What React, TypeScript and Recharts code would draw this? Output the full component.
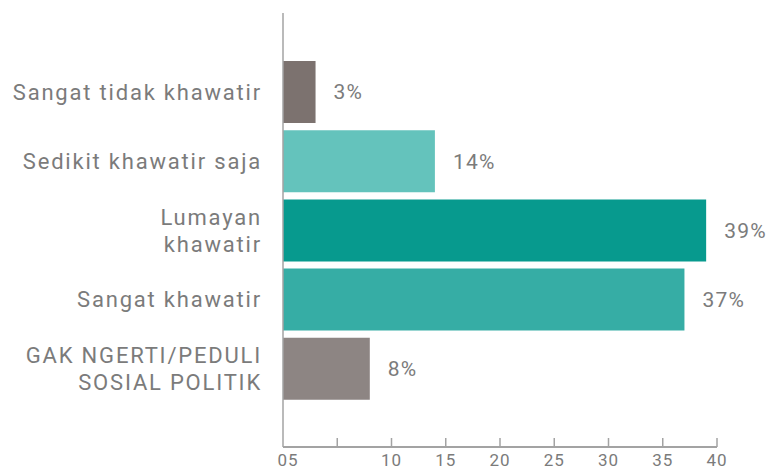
import React from 'react';
import { BarChart, Bar, XAxis, YAxis, Cell, LabelList } from 'recharts';

// survey answers, top to bottom
const categories = [
  'Sangat tidak khawatir',
  'Sedikit khawatir saja',
  'Lumayan\nkhawatir',
  'Sangat khawatir',
  'GAK NGERTI/PEDULI\nSOSIAL POLITIK',
];
const values = [3, 14, 39, 37, 8];
const xTicks = [0, 5, 10, 15, 20, 25, 30, 35, 40];
const xTickLabels = ['05', '', '10', '15', '20', '25', '30', '35', '40'];

const barColors = ['#7c726f', '#64c3bc', '#079a8e', '#36ada5', '#8d8583'];
const textColor = '#7b7b7b';
const axisColor = '#a3a3a3';
const font = 'Roboto, "Noto Sans", sans-serif';

const data = categories.map((name, i) => ({ name, value: values[i] }));

const CategoryTick = (props: any) => {
  const { x, y, payload } = props;
  const lines = String(payload.value).split('\n');
  const lineH = 27;
  const start = -((lines.length - 1) * lineH) / 2;
  return (
    <text x={x} y={y} textAnchor="end" fill={textColor} fontSize={22} letterSpacing={1.8} fontFamily={font}>
      {lines.map((l, i) => (
        <tspan key={i} x={x} dy={i === 0 ? start + 8 : lineH}>
          {l}
        </tspan>
      ))}
    </text>
  );
};

const ValueTick = (props: any) => {
  const { x, y, payload, index } = props;
  const i = xTicks.indexOf(payload.value);
  const label = i >= 0 ? xTickLabels[i] : '';
  return (
    <g>
      {index > 0 && <line x1={x} x2={x} y1={y - 9} y2={y} stroke={axisColor} strokeWidth={1.5} />}
      <text x={x + (index === 0 ? 5 : 0)} y={y + 19} textAnchor="middle" fill={textColor} fontSize={17} letterSpacing={1} fontFamily={font}>
        {label}
      </text>
    </g>
  );
};

export default function App() {
  return (
    <div style={{ position: 'fixed', left: 0, top: 0, width: 778, height: 470, background: '#fff' }}>
      <BarChart
        width={778}
        height={470}
        data={data}
        layout="vertical"
        margin={{ top: 13, right: 61, bottom: 0, left: 0 }}
        barSize={62}
      >
        <XAxis
          type="number"
          domain={[0, 40]}
          ticks={xTicks}
          height={23}
          axisLine={{ stroke: axisColor, strokeWidth: 2 }}
          tickLine={false}
          tickSize={0}
          tickMargin={0}
          interval={0}
          tick={<ValueTick />}
        />
        <YAxis
          type="category"
          dataKey="name"
          width={283}
          axisLine={{ stroke: axisColor, strokeWidth: 1.5 }}
          tickLine={false}
          tickSize={0}
          tickMargin={21}
          padding={{ top: 44, bottom: 44 }}
          interval={0}
          tick={<CategoryTick />}
        />
        <Bar dataKey="value" isAnimationActive={false}>
          {data.map((d, i) => (
            <Cell key={d.name} fill={barColors[i]} />
          ))}
          <LabelList
            dataKey="value"
            position="right"
            offset={18}
            formatter={(v: any) => `${v}%`}
            fill={textColor}
            fontSize={21}
            letterSpacing={1.2}
            fontFamily={font}
          />
        </Bar>
      </BarChart>
    </div>
  );
}
